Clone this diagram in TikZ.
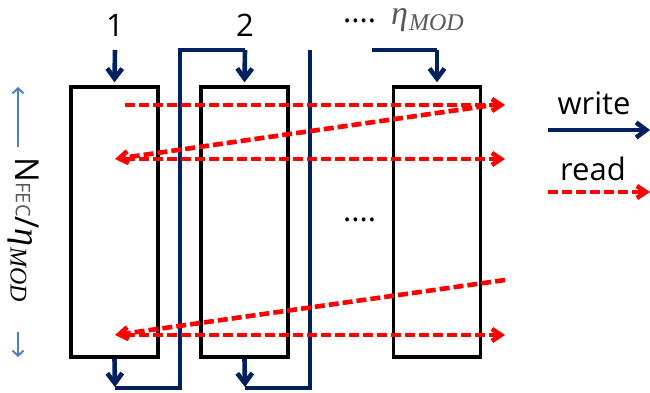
\documentclass[tikz,border=0pt]{standalone}
\usepackage{fontspec}
\setmainfont{Open Sans}
\newfontfamily\etafont{Liberation Serif}
\usetikzlibrary{arrows.meta}
\definecolor{navy}{RGB}{0,32,96}
\definecolor{lblue}{RGB}{79,129,189}
\definecolor{tgray}{RGB}{89,89,89}
\newcommand{\etamod}[2]{{\etafont\itshape\fontsize{#1}{#1}\selectfont η\kern1pt{\fontsize{#2}{#2}\selectfont\raisebox{-0.22em}{MOD}}}}
\begin{document}
\begin{tikzpicture}[x=1pt,y=-1pt,
  box/.style={draw=black, line width=3.4pt, minimum width=87pt, minimum height=270pt, inner sep=0pt},
  wline/.style={draw=navy, line width=3.2pt},
  warrow/.style={draw=navy, line width=4.6pt, -{Straight Barb[length=10pt,width=15pt]}},
  rarrow/.style={draw=red, line width=4.6pt, dash pattern=on 10pt off 4pt, -{Straight Barb[length=9pt,width=12pt]}},
  axarrow/.style={draw=lblue, line width=2pt, -{Straight Barb[length=5pt,width=11pt]}},
  lbl/.style={font=\fontsize{31}{31}\selectfont, inner sep=0pt, anchor=base}
]
\useasboundingbox (0,0) rectangle (650,393);
% boxes
\node[box] (b1) at (114.5,222) {};
\node[box] (b2) at (244.5,222) {};
\node[box] (b3) at (437,222) {};
% labels
\node[lbl] (n1) at (115,37) {1};
\node[lbl] (n2) at (245,37) {2};
\node[lbl, anchor=base west, text height=5pt, text depth=0pt] (dtop) at (343,23) {....};
\node[anchor=base west, inner sep=0pt, text=tgray, text height=18pt, text depth=8pt] (eta) at (391,25) {\etamod{34}{24}};
\node[lbl, anchor=base west, text height=5pt, text depth=0pt] (dmid) at (343,221) {....};
% blue write paths
\coordinate (t1) at (115,50);
\draw[warrow] (t1) -- ([yshift=3pt]b1.north);
\coordinate (d1) at (115,387);
\coordinate (w1a) at (180,388);
\coordinate (w1c) at (245,50);
\draw[warrow] (b1.south) -- (d1);
\draw[wline] (115,388) -- (w1a) |- (w1c);
\draw[warrow] (w1c) -- ([yshift=3pt]b2.north);
\coordinate (d2) at (245,387);
\coordinate (w2a) at (310,388);
\coordinate (w2b) at (310,50);
\draw[warrow] (b2.south) -- (d2);
\draw[wline] (245,388) -- (w2a) -- (w2b);
\coordinate (w3a) at (372,50);
\coordinate (w3b) at (437,50);
\draw[wline] (w3a) -- (w3b);
\draw[warrow] (w3b) -- ([yshift=3pt]b3.north);
% red read paths
\coordinate (r1s) at (125,105);
\coordinate (r1e) at (505,105);
\coordinate (r2s) at (125,159);
\coordinate (r2e) at (505,159);
\coordinate (r3s) at (125,335);
\coordinate (r3e) at (505,335);
\coordinate (q1s) at (500,104);
\coordinate (q1e) at (115,159);
\coordinate (q2s) at (505,280);
\coordinate (q2e) at (115,335);
\draw[rarrow] (r1s) -- (r1e);
\draw[rarrow] (q1s) -- (q1e);
\draw[rarrow] (r2s) -- (r2e);
\draw[rarrow] (q2s) -- (q2e);
\draw[rarrow] (r3s) -- (r3e);
% left axis
\coordinate (a1s) at (18,147);
\coordinate (a1e) at (18,87);
\coordinate (a2s) at (18,332);
\coordinate (a2e) at (18,357);
\draw[axarrow] (a1s) -- (a1e);
\draw[axarrow] (a2s) -- (a2e);
\node[rotate=-90, anchor=base, inner sep=0pt, font=\fontsize{33}{33}\selectfont] (nl) at (16,230)
  {N{\fontsize{20}{20}\selectfont\color{tgray}FEC}/\etamod{36}{24}};
% legend
\node[lbl] (wr) at (594,115) {write};
\coordinate (lw1) at (548,130);
\coordinate (lw2) at (650,130);
\draw[warrow] (lw1) -- (lw2);
\node[lbl] (rd) at (593,180) {read};
\coordinate (lr1) at (548,192);
\coordinate (lr2) at (650,192);
\draw[rarrow] (lr1) -- (lr2);
\end{tikzpicture}
\end{document}
